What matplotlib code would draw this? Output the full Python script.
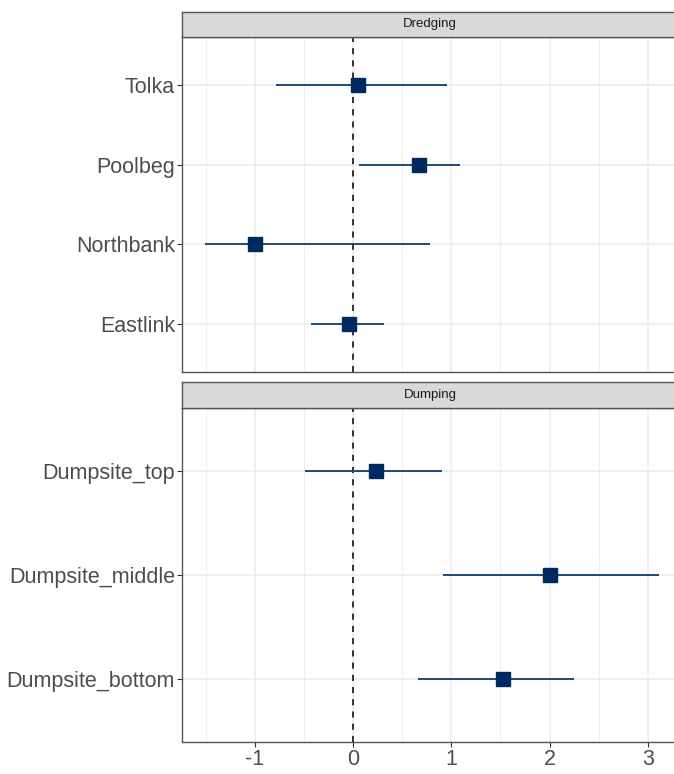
import matplotlib.pyplot as plt

# Dredging sites (top to bottom)
dredge_sites = ["Tolka", "Poolbeg", "Northbank", "Eastlink"]
dredge_est = [0.05, 0.67, -1.00, -0.04]
dredge_lo = [-0.78, 0.06, -1.51, -0.43]
dredge_hi = [0.96, 1.09, 0.78, 0.32]

# Dumping sites (top to bottom)
dump_sites = ["Dumpsite_top", "Dumpsite_middle", "Dumpsite_bottom"]
dump_est = [0.23, 2.00, 1.53]
dump_lo = [-0.49, 0.92, 0.66]
dump_hi = [0.91, 3.11, 2.25]

x_ticks = [-1, 0, 1, 2, 3]

W, H = 674, 774
plt.rcParams['font.family'] = ['Liberation Sans', 'DejaVu Sans']
plt.rcParams['axes.unicode_minus'] = False
fig = plt.figure(figsize=(W / 100, H / 100), dpi=100)

left_px, right_px = 182, 676
# x = 0 at 353 px, 98.3 px per unit
xlim = ((left_px - 353) / 98.3, (right_px - 353) / 98.3)


def box(x0, y0, x1, y1):
    return [x0 / W, 1 - y1 / H, (x1 - x0) / W, (y1 - y0) / H]


def facet(strip_y, panel_y, sites, est, lo, hi, title, bottom):
    ax = fig.add_axes(box(left_px, panel_y[0], right_px, panel_y[1]))
    n = len(sites)
    ys = list(range(n, 0, -1))
    ax.set_xlim(*xlim)
    ax.set_ylim(0.4, n + 0.6)
    ax.set_xticks(x_ticks)
    ax.set_xticks([-1.5, -0.5, 0.5, 1.5, 2.5], minor=True)
    ax.set_yticks(ys)
    ax.set_yticklabels(sites)
    ax.grid(which='major', color='#ebebeb', lw=1.1, zorder=0)
    ax.grid(which='minor', axis='x', color='#ebebeb', lw=0.6, zorder=0)
    ax.set_axisbelow(True)
    ax.axvline(0, color='black', ls=(0, (4, 4)), lw=1.1, zorder=2)
    ax.hlines(ys, lo, hi, color='#1d4a7c', lw=1.4, zorder=3)
    ax.plot(est, ys, 's', color='#002a5f', ms=10, zorder=4)
    ax.tick_params(axis='both', which='major', length=3.5, width=0.8,
                   color='#333333', labelcolor='#4d4d4d', labelsize=15.5, pad=1.5)
    ax.tick_params(axis='x', which='minor', length=0)
    if not bottom:
        ax.tick_params(axis='x', labelbottom=False, length=0)
    for s in ax.spines.values():
        s.set_color('#555555')
        s.set_linewidth(1.0)

    sax = fig.add_axes(box(left_px, strip_y[0], right_px, strip_y[1]))
    sax.set_facecolor('#d9d9d9')
    sax.set_xticks([])
    sax.set_yticks([])
    for s in sax.spines.values():
        s.set_color('#555555')
        s.set_linewidth(1.0)
    sax.text((430 - left_px) / (right_px - left_px), 0.5, title,
             transform=sax.transAxes, ha='center', va='center',
             fontsize=9.5, color='#1a1a1a')
    return ax


facet((12, 37), (37, 372), dredge_sites, dredge_est, dredge_lo, dredge_hi,
      "Dredging", False)
facet((382, 408), (408, 742), dump_sites, dump_est, dump_lo, dump_hi,
      "Dumping", True)

fig.savefig("out.png", dpi=100)
